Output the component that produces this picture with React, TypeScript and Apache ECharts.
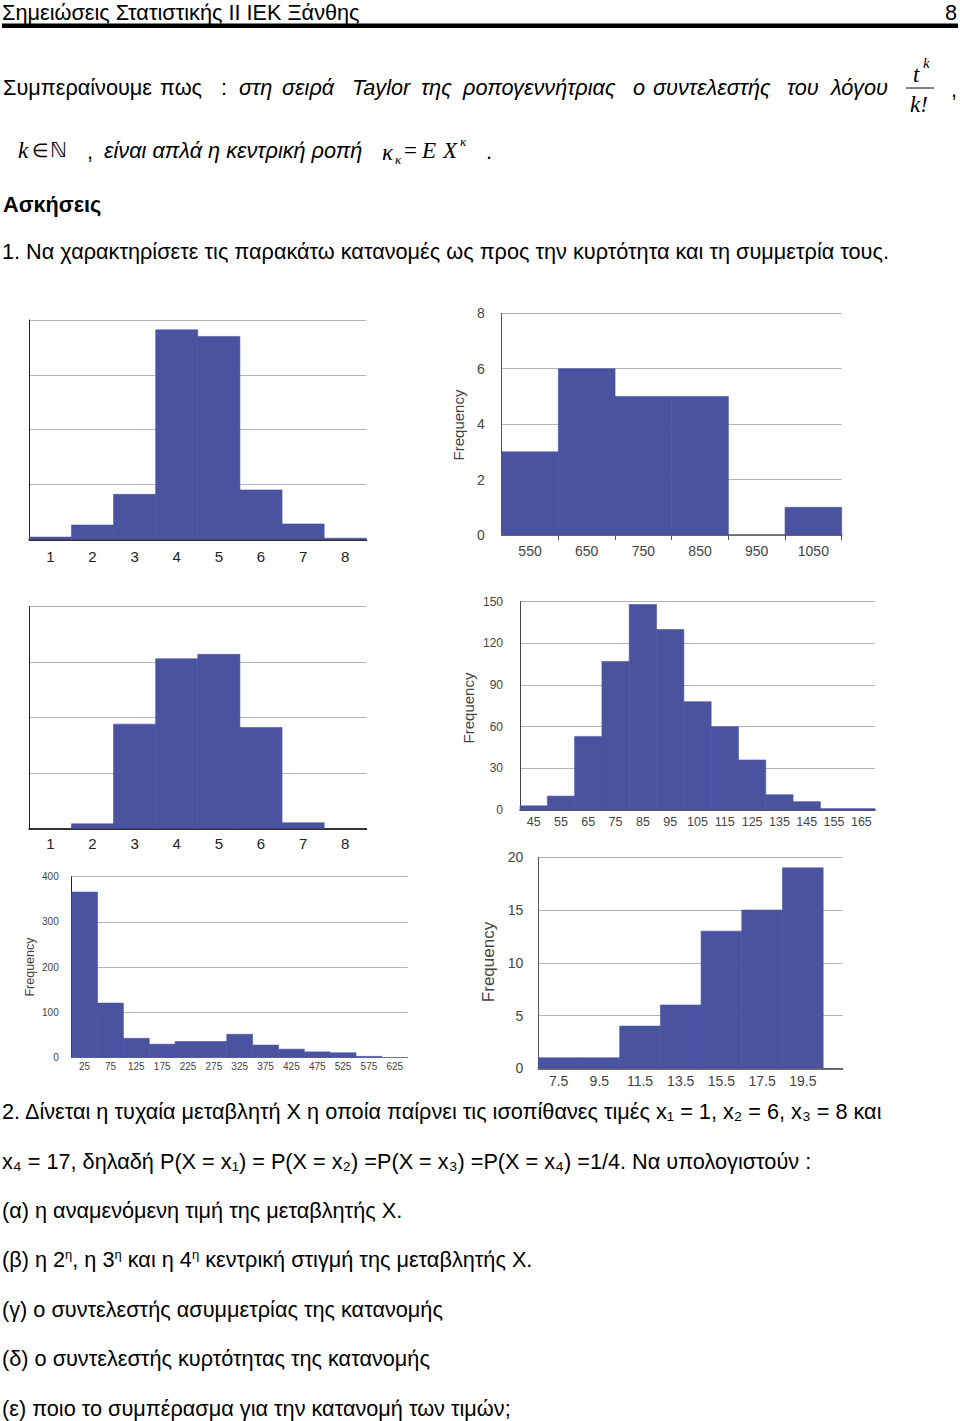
import React, { useEffect, useRef } from 'react';
import * as echarts from 'echarts';

// ---------- DATA ----------
const h1Categories = ['1', '2', '3', '4', '5', '6', '7', '8'];
const h1Values = [2, 13, 41, 191, 185, 45, 14, 1];

const h2Categories = ['550', '650', '750', '850', '950', '1050'];
const h2Values = [3, 6, 5, 5, 0, 1];

const h3Categories = ['1', '2', '3', '4', '5', '6', '7', '8'];
const h3Values = [0, 4, 94, 153, 157, 91, 5, 0];

const h4Categories = ['45', '55', '65', '75', '85', '95', '105', '115', '125', '135', '145', '155', '165'];
const h4Values = [3, 10, 53, 107, 148, 130, 78, 60, 36, 11, 6, 1, 1];

const h5Categories = ['25', '75', '125', '175', '225', '275', '325', '375', '425', '475', '525', '575', '625'];
const h5Values = [366, 120, 42, 29, 35, 35, 51, 27, 18, 12, 10, 2, 0];

const h6Categories = ['7.5', '9.5', '11.5', '13.5', '15.5', '17.5', '19.5'];
const h6Values = [1, 1, 4, 6, 13, 15, 19];

const yAxisName = 'Frequency';

// ---------- LAYOUT / STYLE ----------
const BAR = '#4a539f';
const GRIDLINE = '#b4b4b4';
const FONT = 'Liberation Sans';
const BODY = 21.7;

type Hist = {
  cats: string[];
  vals: number[];
  left: number; top: number; width: number; height: number;
  yMax: number; yInt: number;
  extra?: number;
  showY: boolean;
  yFont?: number; yMargin?: number;
  xFont: number; xMargin: number;
  ticks?: boolean;
  axisColor: string; baseColor: string; baseWidth: number;
  labelColor: string;
  nameX?: number; nameY?: number; nameSize?: number;
};

const hists: Hist[] = [
  { cats: h1Categories, vals: h1Values, left: 29.3, top: 320, width: 337, height: 219.3, yMax: 200, yInt: 50, showY: false,
    xFont: 15, xMargin: 10, axisColor: '#222', baseColor: '#333', baseWidth: 2, labelColor: '#222' },
  { cats: h2Categories, vals: h2Values, left: 501.7, top: 313.3, width: 340, height: 221.7, yMax: 8, yInt: 2, showY: true,
    yFont: 14, yMargin: 17, xFont: 14, xMargin: 9, ticks: true, axisColor: '#555', baseColor: '#555', baseWidth: 1.5, labelColor: '#444',
    nameX: 458, nameY: 425, nameSize: 15 },
  { cats: h3Categories, vals: h3Values, left: 29.3, top: 606.7, width: 337, height: 221.6, yMax: 200, yInt: 50, showY: false,
    xFont: 15, xMargin: 8, axisColor: '#222', baseColor: '#333', baseWidth: 2, labelColor: '#222' },
  { cats: h4Categories, vals: h4Values, left: 520, top: 601.7, width: 355, height: 208.3, yMax: 150, yInt: 30, showY: true,
    yFont: 12, yMargin: 17, xFont: 12.5, xMargin: 5, axisColor: '#444', baseColor: '#333', baseWidth: 1.5, labelColor: '#444',
    nameX: 468, nameY: 708, nameSize: 15 },
  { cats: h5Categories, vals: h5Values, left: 71.7, top: 876.7, width: 336, height: 180.6, yMax: 400, yInt: 100, showY: true,
    yFont: 10, yMargin: 13, xFont: 10, xMargin: 4, axisColor: '#222', baseColor: '#777', baseWidth: 1, labelColor: '#444',
    nameX: 30, nameY: 967, nameSize: 12.5 },
  { cats: h6Categories, vals: h6Values, left: 538.3, top: 857.3, width: 304.4, height: 211, yMax: 20, yInt: 5, extra: 0.48, showY: true,
    yFont: 14, yMargin: 15, xFont: 14, xMargin: 6, axisColor: '#555', baseColor: '#444', baseWidth: 1.5, labelColor: '#444',
    nameX: 488, nameY: 962, nameSize: 17 },
];

const T = (text: string, x: number, y: number, opts: any = {}) => ({
  type: 'text',
  x, y,
  silent: true,
  style: {
    text,
    fontFamily: opts.family || FONT,
    fontSize: opts.size || BODY,
    fontStyle: opts.italic ? 'italic' : 'normal',
    fontWeight: opts.bold ? 'bold' : 'normal',
    fill: opts.color || '#000',
    align: opts.align || 'left',
    verticalAlign: 'middle',
    rich: opts.rich,
  },
});

const SERIF = 'Liberation Serif';

const line1Words: [string, number, boolean][] = [
  ['Συμπεραίνουμε', 3, false], ['πως', 160, false], [':', 221, false],
  ['στη', 239, true], ['σειρά', 282, true], ['Taylor', 352, true], ['της', 421, true],
  ['ροπογεννήτριας', 463, true], ['ο', 633, true], ['συντελεστής', 653, true],
  ['του', 787, true], ['λόγου', 831, true],
];

const supRich = {
  sup: { fontSize: 13, lineHeight: 12, verticalAlign: 'top', fontFamily: FONT, fill: '#000' },
};

function buildGraphics() {
  const g: any[] = [];
  // header
  g.push(T('Σημειώσεις Στατιστικής ΙΙ ΙΕΚ Ξάνθης', 2, 12));
  g.push(T('8', 957, 12, { align: 'right' }));
  g.push({ type: 'rect', silent: true, shape: { x: 2, y: 23.5, width: 956, height: 4.5 }, style: { fill: '#000' } });

  // line 1
  line1Words.forEach(([w, x, it]) => g.push(T(w, x, 87, { italic: it })));
  g.push(T('t', 913, 74, { family: SERIF, italic: true, size: 23 }));
  g.push(T('k', 923, 63, { family: SERIF, italic: true, size: 15 }));
  g.push({ type: 'line', silent: true, shape: { x1: 906, y1: 88, x2: 934, y2: 88 }, style: { stroke: '#000', lineWidth: 1 } });
  g.push(T('k!', 910, 104, { family: SERIF, italic: true, size: 23 }));
  g.push(T(',', 951, 89));

  // line 2
  g.push(T('k', 18, 150, { family: SERIF, italic: true, size: 23 }));
  g.push(T('∈', 32, 150, { family: SERIF, size: 19 }));
  g.push(T('ℕ', 50, 150, { family: 'DejaVu Sans', size: 21 }));
  g.push(T(',', 87, 151));
  g.push(T('είναι απλά η κεντρική ροπή', 104, 150, { italic: true }));
  g.push(T('κ', 382, 152, { family: SERIF, italic: true, size: 23 }));
  g.push(T('κ', 395, 159, { family: SERIF, italic: true, size: 13 }));
  g.push(T('=', 404, 150, { family: SERIF, size: 23 }));
  g.push(T('E', 422, 150, { family: SERIF, italic: true, size: 23 }));
  g.push(T('X', 443, 150, { family: SERIF, italic: true, size: 23 }));
  g.push(T('κ', 460, 141, { family: SERIF, italic: true, size: 13 }));
  g.push(T('.', 486, 151));

  g.push(T('Ασκήσεις', 3, 204, { bold: true }));
  g.push(T('1. Να χαρακτηρίσετε τις παρακάτω κατανομές ως προς την κυρτότητα και τη συμμετρία τους.', 2, 251));

  // bottom text
  g.push(T('2. Δίνεται η τυχαία μεταβλητή Χ η οποία παίρνει τις ισοπίθανες τιμές x₁ = 1, x₂ = 6, x₃ = 8 και', 2, 1111));
  g.push(T('x₄ = 17, δηλαδή P(X = x₁) = P(X = x₂) =P(X = x₃) =P(X = x₄) =1/4. Να υπολογιστούν :', 2, 1161));
  g.push(T('(α) η αναμενόμενη τιμή της μεταβλητής Χ.', 2, 1210));
  g.push(T('(β) η 2{sup|η}, η 3{sup|η} και η 4{sup|η} κεντρική στιγμή της μεταβλητής Χ.', 2, 1259, { rich: supRich }));
  g.push(T('(γ) ο συντελεστής ασυμμετρίας της κατανομής', 2, 1309));
  g.push(T('(δ) ο συντελεστής κυρτότητας της κατανομής', 2, 1358));
  g.push(T('(ε) ποιο το συμπέρασμα για την κατανομή των τιμών;', 2, 1408));

  // Frequency labels
  hists.forEach((h) => {
    if (h.nameX !== undefined) {
      g.push({
        type: 'text', silent: true, x: h.nameX, y: h.nameY, rotation: Math.PI / 2,
        style: { text: yAxisName, fontFamily: FONT, fontSize: h.nameSize, fill: '#444', align: 'center', verticalAlign: 'middle' },
      });
    }
  });
  return g;
}

function buildOption() {
  const grid: any[] = [];
  const xAxis: any[] = [];
  const yAxis: any[] = [];
  const series: any[] = [];
  hists.forEach((h, i) => {
    const n = h.cats.length;
    grid.push({ left: h.left, top: h.top, width: h.width, height: h.height, containLabel: false });
    const centers = h.cats.map((_, k) => k);
    const edges = h.cats.map((_, k) => k + 0.5);
    xAxis.push({
      gridIndex: i, type: 'value', min: -0.5, max: n - 0.5 + (h.extra || 0),
      axisLine: { show: true, onZero: false, lineStyle: { color: h.baseColor, width: h.baseWidth } },
      axisTick: { show: !!h.ticks, customValues: edges, length: 5, lineStyle: { color: h.baseColor, width: 1 } },
      axisLabel: {
        customValues: centers, formatter: (v: number) => h.cats[Math.round(v)] ?? '',
        fontSize: h.xFont, color: h.labelColor, margin: h.xMargin, fontFamily: FONT,
      },
      splitLine: { show: false },
    });
    yAxis.push({
      gridIndex: i, type: 'value', min: 0, max: h.yMax, interval: h.yInt,
      axisLine: { show: true, onZero: false, lineStyle: { color: h.axisColor, width: 1 } },
      axisTick: { show: false },
      axisLabel: { show: h.showY, fontSize: h.yFont, color: h.labelColor, margin: h.yMargin, fontFamily: FONT },
      splitLine: { show: true, lineStyle: { color: GRIDLINE, width: 1 } },
    });
    series.push({
      type: 'custom', xAxisIndex: i, yAxisIndex: i, z: 3,
      data: h.vals.map((v, k) => [k, v]),
      encode: { x: 0, y: 1 },
      renderItem: (params: any, api: any) => {
        const x = api.value(0);
        const y = api.value(1);
        if (!y) return null;
        const p0 = api.coord([x - 0.5, 0]);
        const p1 = api.coord([x + 0.5, y]);
        return {
          type: 'rect',
          shape: { x: p0[0], y: p1[1], width: p1[0] - p0[0], height: p0[1] - p1[1] },
          style: { fill: BAR, stroke: BAR, lineWidth: 0.6 },
        };
      },
    });
  });
  return {
    animation: false,
    backgroundColor: '#fff',
    grid, xAxis, yAxis, series,
    graphic: buildGraphics(),
  };
}

export default function App() {
  const ref = useRef<HTMLDivElement>(null);
  useEffect(() => {
    if (!ref.current) return;
    const chart = echarts.init(ref.current, undefined, { renderer: 'svg' });
    chart.setOption(buildOption() as any);
    return () => chart.dispose();
  }, []);
  return (
    <div
      ref={ref}
      style={{ position: 'absolute', left: 0, top: 0, width: 960, height: 1421, background: '#fff' }}
    />
  );
}
